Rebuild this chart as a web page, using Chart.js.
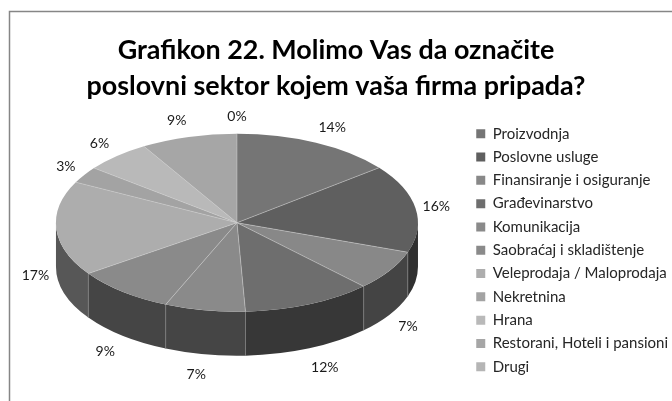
<!DOCTYPE html>
<html><head><meta charset="utf-8">
<style>html,body{margin:0;padding:0;background:#fff}#w{width:672px;height:401px;position:relative}</style>
<script src="https://cdn.jsdelivr.net/npm/chart.js@4"></script>
</head><body><div id="w"><canvas id="c" width="672" height="401"></canvas></div>
<script>
const chartTitle = ['Grafikon 22. Molimo Vas da označite', 'poslovni sektor kojem vaša firma pripada?'];
const categories = ['Proizvodnja','Poslovne usluge','Finansiranje i osiguranje','Građevinarstvo','Komunikacija','Saobraćaj i skladištenje','Veleprodaja / Maloprodaja','Nekretnina','Hrana','Restorani, Hoteli i pansioni','Drugi'];
const shares = [14.4,16,7.3,11.6,7.2,8.9,17.2,3,5.9,8.6,0];
const sliceColors = ['#757575','#5f5f5f','#888888','#6e6e6e','#8a8a8a','#8a8a8a','#adadad','#a3a3a3','#b9b9b9','#a6a6a6','#b5b5b5'];
const FONT = 'Lato, "Open Sans", sans-serif';
const TILT = 0.492, DEPTH = 44, LIFT = -27.5, SHIFT = 3;

function shade(hex, f){
  const n = parseInt(hex.slice(1),16);
  const c = s => Math.round(((n>>s)&255)*f);
  return `rgb(${c(16)},${c(8)},${c(0)})`;
}
const pie3d = {
  id:'pie3d',
  beforeDraw(chart){
    const {ctx,width,height} = chart;
    ctx.save();
    ctx.strokeStyle='#868686'; ctx.lineWidth=1.5;
    ctx.strokeRect(9.5,11.5,width+20,height+20);
    ctx.restore();
  },
  beforeDatasetsDraw(chart){
    const {ctx} = chart, arcs = chart.getDatasetMeta(0).data;
    const a0 = arcs[0], cx = a0.x + SHIFT, cy = a0.y + LIFT, rx = a0.outerRadius, ry = rx*TILT;
    ctx.save();
    arcs.forEach((a,i)=>{
      const s = Math.max(a.startAngle,0), e = Math.min(a.endAngle,Math.PI);
      if (e <= s) return;
      ctx.beginPath();
      ctx.ellipse(cx,cy,rx,ry,0,s,e);
      ctx.ellipse(cx,cy+DEPTH,rx,ry,0,e,s,true);
      ctx.closePath();
      ctx.fillStyle = shade(sliceColors[i],0.5);
      ctx.fill();
    });
    ctx.strokeStyle='#7d7d7d'; ctx.lineWidth=0.8;
    arcs.forEach(a=>{
      const t = a.endAngle;
      if (t<=0 || t>=Math.PI || a.endAngle===a.startAngle) return;
      const x = cx+rx*Math.cos(t), y = cy+ry*Math.sin(t);
      ctx.beginPath(); ctx.moveTo(x,y); ctx.lineTo(x,y+DEPTH); ctx.stroke();
    });
    ctx.restore();
    ctx.save();
    ctx.translate(cx,cy); ctx.scale(1,TILT); ctx.translate(-a0.x,-a0.y);
  },
  afterDatasetsDraw(chart){
    const {ctx} = chart, arcs = chart.getDatasetMeta(0).data;
    ctx.restore();
    const a0 = arcs[0], cx = a0.x + SHIFT, cy = a0.y + LIFT, rx = a0.outerRadius, ry = rx*TILT;
    ctx.save();
    ctx.strokeStyle='rgba(205,205,205,0.75)'; ctx.lineWidth=0.7;
    arcs.forEach(a=>{
      if (a.endAngle===a.startAngle) return;
      ctx.beginPath(); ctx.moveTo(cx,cy);
      ctx.lineTo(cx+rx*Math.cos(a.endAngle),cy+ry*Math.sin(a.endAngle)); ctx.stroke();
    });
    const total = shares.reduce((p,v)=>p+v,0);
    ctx.fillStyle='#1a1a1a'; ctx.font='14px '+FONT; ctx.textAlign='center'; ctx.textBaseline='middle';
    arcs.forEach((a,i)=>{
      const m = (a.startAngle+a.endAngle)/2, c = Math.cos(m), s = Math.sin(m);
      const x = cx + (rx+21+30*Math.pow(Math.abs(s),6))*c;
      const y = cy + (ry+19)*s + (s>0?DEPTH:0) + 1.5;
      ctx.fillText(Math.round(shares[i]/total*100)+'%',x,y);
    });
    ctx.restore();
  }
};
new Chart(document.getElementById('c'),{
  type:'pie',
  plugins:[pie3d],
  data:{labels:categories,datasets:[{data:shares,backgroundColor:sliceColors,borderWidth:0,clip:false}]},
  options:{
    responsive:false,animation:false,
    radius:181,
    layout:{padding:{left:-6,right:-6,top:0,bottom:10}},
    plugins:{
      tooltip:{enabled:false},
      title:{display:true,text:chartTitle,color:'#000',font:{family:FONT,size:26.9,weight:'bold',lineHeight:1.31},padding:{top:33,bottom:6}},
      legend:{position:'right',fullSize:false,labels:{boxWidth:9,boxHeight:9,padding:8.3,color:'#262626',font:{family:FONT,size:15}}}
    }
  }
});
</script></body></html>
